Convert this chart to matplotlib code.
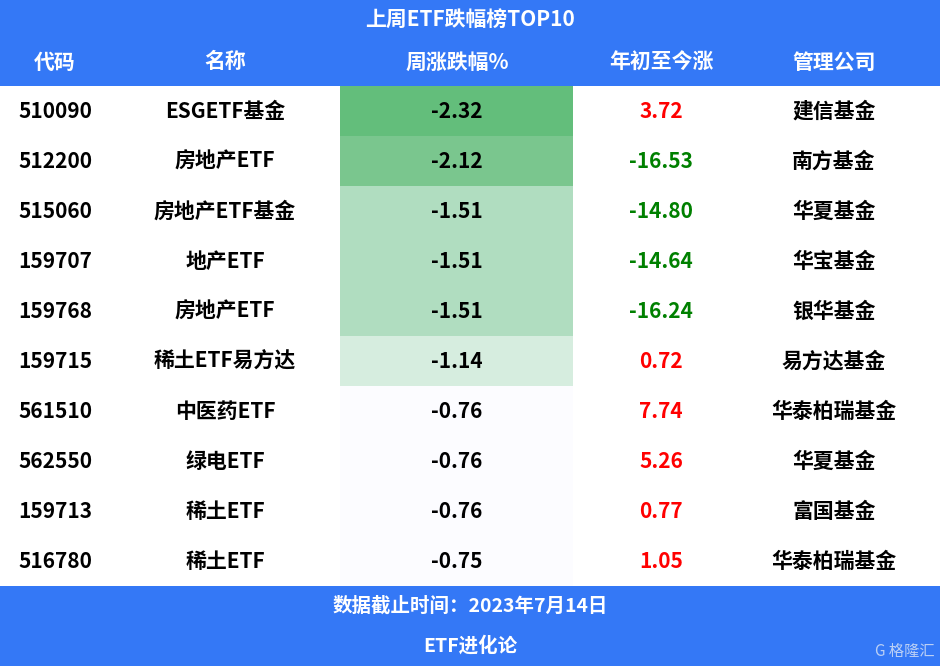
import matplotlib.pyplot as plt
from matplotlib.patches import Rectangle

plt.rcParams['font.family'] = ['Noto Sans CJK SC', 'DejaVu Sans']

title = "上周ETF跌幅榜TOP10"
headers = ["代码", "名称", "周涨跌幅%", "年初至今涨", "管理公司"]
codes = ["510090", "512200", "515060", "159707", "159768", "159715", "561510", "562550", "159713", "516780"]
names = ["ESGETF基金", "房地产ETF", "房地产ETF基金", "地产ETF", "房地产ETF",
         "稀土ETF易方达", "中医药ETF", "绿电ETF", "稀土ETF", "稀土ETF"]
week_chg = [-2.32, -2.12, -1.51, -1.51, -1.51, -1.14, -0.76, -0.76, -0.76, -0.75]
ytd_chg = [3.72, -16.53, -14.80, -14.64, -16.24, 0.72, 7.74, 5.26, 0.77, 1.05]
companies = ["建信基金", "南方基金", "华夏基金", "华宝基金", "银华基金",
             "易方达基金", "华泰柏瑞基金", "华夏基金", "富国基金", "华泰柏瑞基金"]
footer1 = "数据截止时间：2023年7月14日"
footer2 = "ETF进化论"

BLUE = "#3478F6"
col_edges = [0, 110, 340, 573, 750, 940]
col_centers = [55, 225, 457, 661, 834]
row_h = 50
top = 86

def week_color(v):
    if v <= -2.3:
        return "#63BE7B"
    if v <= -2.0:
        return "#7AC68E"
    if v <= -1.5:
        return "#B0DDC0"
    if v <= -1.1:
        return "#D6EDDF"
    return "#FCFCFF"

fig = plt.figure(figsize=(9.44, 6.68), dpi=100)
ax = fig.add_axes([0, 0, 1, 1])
ax.set_xlim(0, 944)
ax.set_ylim(668, 0)
ax.axis('off')

ax.add_patch(Rectangle((0, 0), 940, top, color=BLUE, lw=0))
ax.add_patch(Rectangle((0, top + 10 * row_h), 940, 668 - top - 10 * row_h - 2, color=BLUE, lw=0))
ax.text(470, 19, title, ha='center', va='center', fontsize=15, color='white', fontweight='bold')
for c, h in zip(col_centers, headers):
    ax.text(c, 62, h, ha='center', va='center', fontsize=15, color='white', fontweight='bold')

for i in range(10):
    y = top + i * row_h
    yc = y + row_h / 2
    ax.add_patch(Rectangle((col_edges[2], y), col_edges[3] - col_edges[2], row_h,
                           color=week_color(week_chg[i]), lw=0))
    ax.text(col_centers[0], yc, codes[i], ha='center', va='center', fontsize=15, fontweight='bold')
    ax.text(col_centers[1], yc, names[i], ha='center', va='center', fontsize=15, fontweight='bold')
    ax.text(col_centers[2], yc, f"{week_chg[i]:.2f}", ha='center', va='center', fontsize=15, fontweight='bold')
    ax.text(col_centers[3], yc, f"{ytd_chg[i]:.2f}", ha='center', va='center', fontsize=15,
            fontweight='bold', color='#FF0000' if ytd_chg[i] > 0 else '#008000')
    ax.text(col_centers[4], yc, companies[i], ha='center', va='center', fontsize=15, fontweight='bold')

ax.text(470, 606, footer1, ha='center', va='center', fontsize=14, color='white', fontweight='bold')
ax.text(470, 646, footer2, ha='center', va='center', fontsize=14, color='white', fontweight='bold')
ax.text(935, 651, "G 格隆汇", ha='right', va='center', fontsize=11, color='#DDE6F5', alpha=0.8)

fig.savefig("out.png", dpi=100)
